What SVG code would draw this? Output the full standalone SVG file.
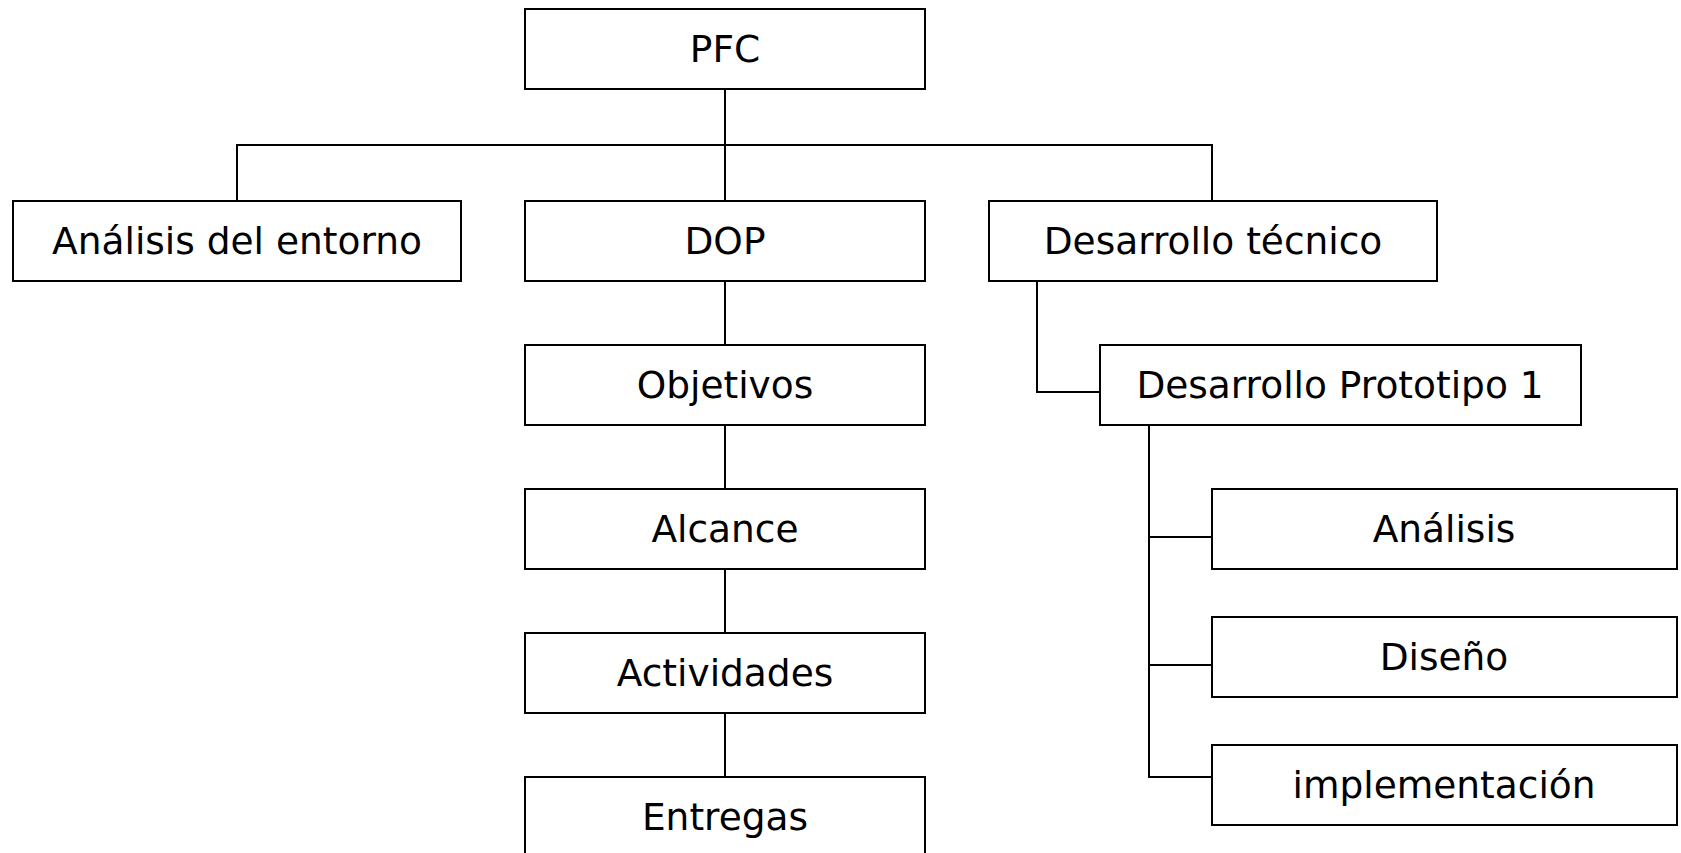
<svg xmlns="http://www.w3.org/2000/svg" width="1681" height="853" viewBox="0 0 1681 853">
<style>
.box{fill:#ffffff;stroke:#000000;stroke-width:2}
.lbl{font-family:"DejaVu Sans",sans-serif;font-size:37.5px;fill:#000000;text-anchor:middle}
.conn{stroke:#000000;stroke-width:2;fill:none}
</style>
<rect width="1681" height="853" fill="#ffffff"/>
<g id="connectors">
<path class="conn" d="M725 89V201M237 201V145H1212V201"/>
<path class="conn" d="M725 281V345M725 425V489M725 569V633M725 713V777"/>
<path class="conn" d="M1037 281V392H1100"/>
<path class="conn" d="M1149 425V777H1212M1149 537H1212M1149 665H1212"/>
</g>
<g id="pfc"><rect class="box" x="525" y="9" width="400" height="80"/><text class="lbl" x="725" y="62">PFC</text></g>
<g id="analisis-entorno"><rect class="box" x="13" y="201" width="448" height="80"/><text class="lbl" x="237" y="254">Análisis del entorno</text></g>
<g id="dop"><rect class="box" x="525" y="201" width="400" height="80"/><text class="lbl" x="725" y="254">DOP</text></g>
<g id="desarrollo-tecnico"><rect class="box" x="989" y="201" width="448" height="80"/><text class="lbl" x="1213" y="254">Desarrollo técnico</text></g>
<g id="objetivos"><rect class="box" x="525" y="345" width="400" height="80"/><text class="lbl" x="725" y="398">Objetivos</text></g>
<g id="alcance"><rect class="box" x="525" y="489" width="400" height="80"/><text class="lbl" x="725" y="542">Alcance</text></g>
<g id="actividades"><rect class="box" x="525" y="633" width="400" height="80"/><text class="lbl" x="725" y="686">Actividades</text></g>
<g id="entregas"><rect class="box" x="525" y="777" width="400" height="80"/><text class="lbl" x="725" y="830">Entregas</text></g>
<g id="prototipo1"><rect class="box" x="1100" y="345" width="481" height="80"/><text class="lbl" x="1340" y="398">Desarrollo Prototipo 1</text></g>
<g id="analisis"><rect class="box" x="1212" y="489" width="465" height="80"/><text class="lbl" x="1444" y="542">Análisis</text></g>
<g id="diseno"><rect class="box" x="1212" y="617" width="465" height="80"/><text class="lbl" x="1444" y="670">Diseño</text></g>
<g id="implementacion"><rect class="box" x="1212" y="745" width="465" height="80"/><text class="lbl" x="1444" y="798">implementación</text></g>
</svg>
